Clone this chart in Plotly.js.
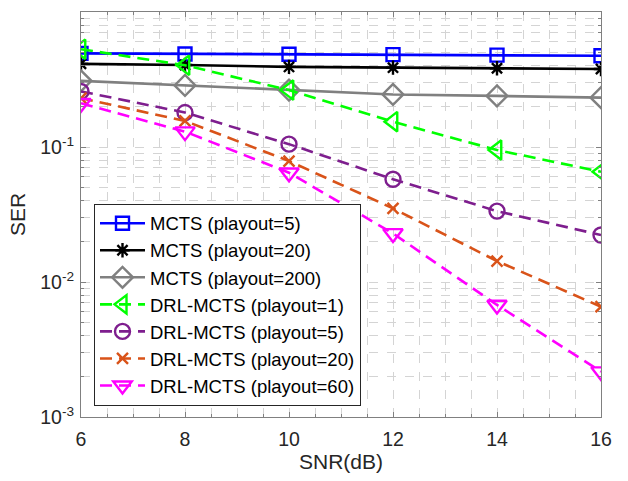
<!DOCTYPE html>
<html>
<head>
<meta charset="utf-8">
<script src="https://cdn.plot.ly/plotly-3.0.1.min.js"></script>
<style>html,body{margin:0;padding:0;background:#fff;}#chart{width:628px;height:481px;}</style>
</head>
<body>
<div id="chart"></div>
<script>
const snr = [6, 8, 10, 12, 14, 16];
const mcts5 = [0.494, 0.489, 0.487, 0.483, 0.479, 0.474];
const mcts20 = [0.413, 0.405, 0.392, 0.387, 0.383, 0.378];
const mcts200 = [0.309, 0.286, 0.264, 0.245, 0.239, 0.232];
const drl1 = [0.53, 0.403, 0.264, 0.154, 0.095, 0.0656];
const drl5 = [0.258, 0.18, 0.105, 0.0577, 0.0335, 0.0223];
const drl20 = [0.23, 0.156, 0.0787, 0.0351, 0.0143, 0.00656];
const drl60 = [0.211, 0.13, 0.0645, 0.0229, 0.00676, 0.00217];
const names = ['MCTS (playout=5)', 'MCTS (playout=20)', 'MCTS (playout=200)', 'DRL-MCTS (playout=1)', 'DRL-MCTS (playout=5)', 'DRL-MCTS (playout=20)', 'DRL-MCTS (playout=60)'];
const yTickVals = [0.001, 0.01, 0.1, 1];
const yTickText = ['10<sup>-3</sup>', '10<sup>-2</sup>', '10<sup>-1</sup>', '10<sup>0</sup>'];

const series = [mcts5, mcts20, mcts200, drl1, drl5, drl20, drl60];
const styles = [
  {color: '#0000FF', dash: 'solid', symbol: 'square-open', size: 13},
  {color: '#000000', dash: 'solid', symbol: 'asterisk-open', size: 12},
  {color: '#808080', dash: 'solid', symbol: 'diamond-open', size: 16},
  {color: '#00FF00', dash: '12px,7px', symbol: 'triangle-left-open', size: 17},
  {color: '#7E1E8E', dash: '12px,7px', symbol: 'circle-open', size: 15},
  {color: '#D95319', dash: '12px,7px', symbol: 'x-thin-open', size: 11},
  {color: '#FF00FF', dash: '12px,7px', symbol: 'triangle-down-open', size: 17}
];

const traces = series.map((ys, i) => ({
  x: snr, y: ys, name: names[i], type: 'scatter', mode: 'lines+markers',
  line: {color: styles[i].color, width: 2.6, dash: styles[i].dash},
  marker: {symbol: styles[i].symbol, size: styles[i].size, color: styles[i].color,
           line: {color: styles[i].color, width: 2.4}}
}));

const gridCol = '#d4d4d4';
const layout = {
  width: 628, height: 481,
  margin: {l: 81, r: 27, t: 12, b: 64},
  paper_bgcolor: '#fff', plot_bgcolor: '#fff',
  font: {family: 'Liberation Sans, Arial, sans-serif', color: '#262626', size: 19.5},
  showlegend: true,
  legend: {x: 0.025, y: 0.028, xanchor: 'left', yanchor: 'bottom',
           bgcolor: '#fff', bordercolor: '#262626', borderwidth: 1,
           itemwidth: 45,
           font: {size: 18.5, color: '#000'}, tracegroupgap: 0},
  xaxis: {
    range: [6, 16], dtick: 2, tick0: 6,
    showline: true, linecolor: '#808080', linewidth: 1, mirror: 'ticks',
    ticks: 'inside', ticklen: 5, tickcolor: '#808080', ticklabelstandoff: 5,
    showgrid: true, gridcolor: gridCol, griddash: 'dash', zeroline: false,
    minor: {dtick: 0.5, ticks: 'inside', ticklen: 3, tickcolor: '#808080', showgrid: true, gridcolor: gridCol, griddash: 'dash'},
    title: {text: 'SNR(dB)', font: {size: 21}, standoff: 4}
  },
  yaxis: {
    type: 'log', range: [-3, 0],
    tickmode: 'array', tickvals: yTickVals, ticktext: yTickText,
    showline: true, linecolor: '#808080', linewidth: 1, mirror: 'ticks',
    ticks: 'inside', ticklen: 5, tickcolor: '#808080', ticklabelstandoff: 2,
    showgrid: true, gridcolor: gridCol, griddash: 'dash', zeroline: false,
    minor: {dtick: 'D1', ticks: 'inside', ticklen: 3, tickcolor: '#808080', showgrid: true, gridcolor: gridCol, griddash: 'dash'},
    title: {text: 'SER', font: {size: 21}, standoff: 8}
  }
};

Plotly.newPlot('chart', traces, layout, {displayModeBar: false, staticPlot: true});
</script>
</body>
</html>
